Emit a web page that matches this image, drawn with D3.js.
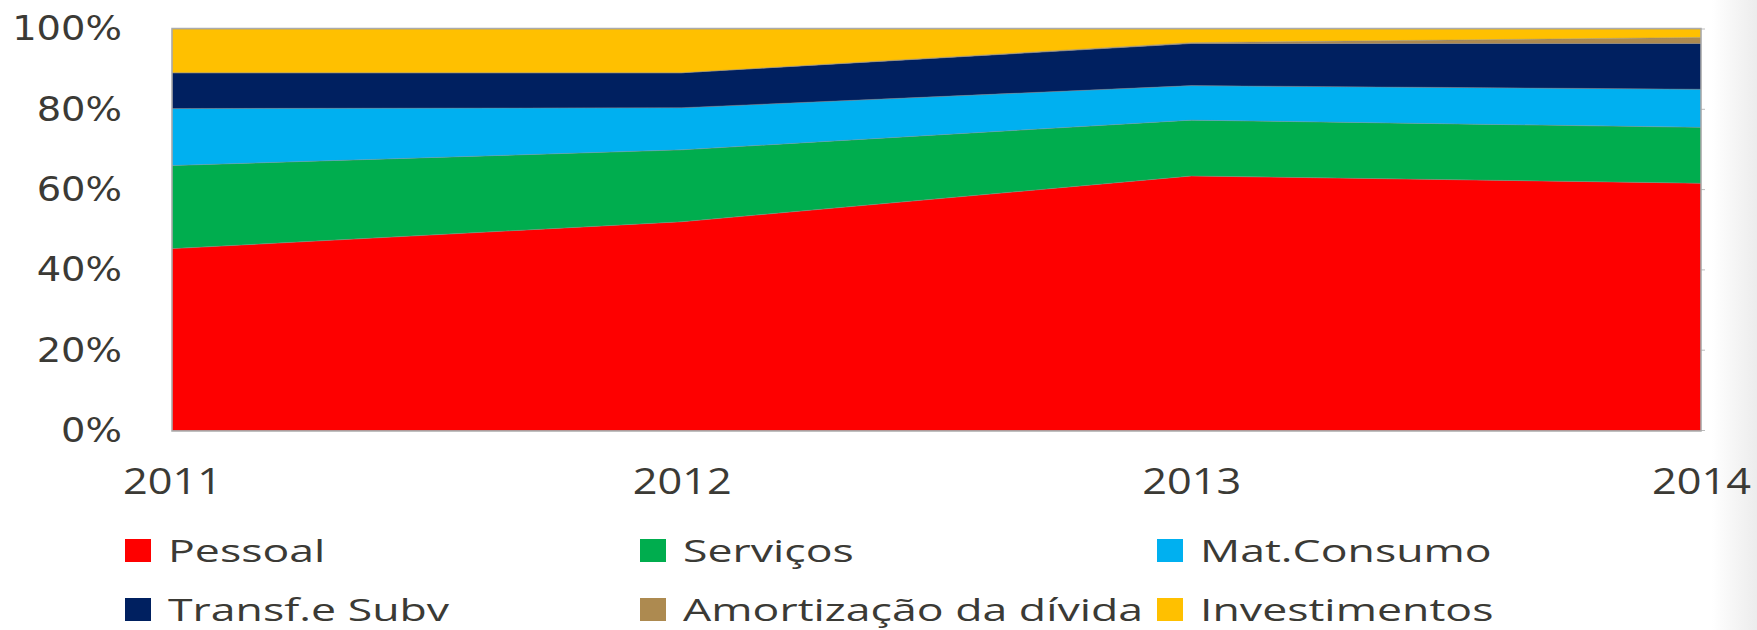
<!DOCTYPE html>
<html>
<head>
<meta charset="utf-8">
<script src="https://cdn.jsdelivr.net/npm/d3@7"></script>
<style>
  body { margin: 0; background: #fff; }
  svg { display: block; }
</style>
</head>
<body>
<svg id="chart" width="1757" height="630"></svg>
<script>
// data (share of total, %)
const years = ['2011', '2012', '2013', '2014']
const pessoal = [45.3, 52.0, 63.4, 61.6]
const servicos = [20.7, 17.9, 13.9, 13.9]
const matConsumo = [14.2, 10.5, 8.6, 9.5]
const transf = [8.9, 8.7, 10.5, 11.4]
const amortizacao = [0, 0, 0.2, 1.5]
const investimentos = [10.9, 10.9, 3.4, 2.1]
const yTicks = [0, 20, 40, 60, 80, 100]

const seriesNames = ['Pessoal', 'Serviços', 'Mat.Consumo', 'Transf.e Subv', 'Amortização da dívida', 'Investimentos']
const seriesValues = [pessoal, servicos, matConsumo, transf, amortizacao, investimentos]
const colors = ['#fe0000', '#00ad4e', '#00b0f0', '#002060', '#ad8a50', '#ffc000']

const rows = years.map((yr, i) => {
    const r = { year: yr }
    seriesNames.forEach((n, k) => r[n] = seriesValues[k][i])
    return r
})

const svg = d3.select('#chart')
const plotLeft = 172, plotRight = 1701, plotTop = 29, plotBottom = 430.5
const textColor = '#3b3a35'

const x = d3.scalePoint().domain(years).range([plotLeft, plotRight])
const y = d3.scaleLinear().domain([0, 1]).range([plotBottom, plotTop])
const color = d3.scaleOrdinal().domain(seriesNames).range(colors)

const stacked = d3.stack()
    .keys(seriesNames)
    .offset(d3.stackOffsetExpand)(rows)

// faint slide shadow on the right edge
const grad = svg.append('defs').append('linearGradient')
    .attr('id', 'edge')
grad.append('stop').attr('offset', '0%').attr('stop-color', '#fff')
grad.append('stop').attr('offset', '100%').attr('stop-color', '#ececec')
svg.append('rect')
    .attr('x', 1712)
    .attr('y', 0)
    .attr('width', 45)
    .attr('height', 630)
    .attr('fill', 'url(#edge)')

// gridlines (only the ends peek out on the right)
svg.append('g')
    .selectAll('line')
    .data(yTicks)
    .join('line')
    .attr('x1', plotLeft)
    .attr('x2', plotRight + 4)
    .attr('y1', d => y(d / 100))
    .attr('y2', d => y(d / 100))
    .attr('stroke', '#bcbcbc')
    .attr('stroke-width', 1)

const area = d3.area()
    .x(d => x(d.data.year))
    .y0(d => y(d[0]))
    .y1(d => y(d[1]))

svg.append('g')
    .selectAll('path')
    .data(stacked)
    .join('path')
    .attr('d', area)
    .attr('fill', d => color(d.key))
    .attr('stroke', '#8a8a8a')
    .attr('stroke-opacity', 0.45)
    .attr('stroke-width', 0.8)

// plot frame
svg.append('rect')
    .attr('x', plotLeft)
    .attr('y', plotTop - 0.5)
    .attr('width', plotRight - plotLeft)
    .attr('height', plotBottom - plotTop + 1)
    .attr('fill', 'none')
    .attr('stroke', '#ababab')
    .attr('stroke-width', 1.5)

// y axis
const yAxis = svg.append('g')
    .attr('transform', 'translate(122,0)')
    .call(d3.axisLeft(d3.scaleLinear().domain([0, 100]).range([plotBottom, plotTop]))
        .tickValues(yTicks)
        .tickFormat(d => d + '%')
        .tickSize(0)
        .tickPadding(0))
yAxis.select('.domain').remove()
yAxis.selectAll('text')
    .attr('x', 0)
    .attr('transform', 'scale(1.13,1)')
    .style('font-family', '"DejaVu Sans", Verdana, sans-serif')
    .style('font-size', '34px')
    .style('fill', textColor)

// x axis
const xAxis = svg.append('g')
    .attr('transform', `translate(0,${plotBottom})`)
    .call(d3.axisBottom(x).tickSize(0).tickPadding(37))
xAxis.select('.domain').remove()
xAxis.selectAll('text')
    .attr('transform', 'scale(1.17,1)')
    .style('font-family', '"Open Sans", sans-serif')
    .style('font-size', '37px')
    .style('fill', textColor)

// legend
const legendCols = [125, 640, 1157]
const legendRows = [539, 598]
const legend = svg.append('g')
    .selectAll('g')
    .data(seriesNames)
    .join('g')
    .attr('transform', (d, i) => `translate(${legendCols[i % 3]},${legendRows[Math.floor(i / 3)]})`)

legend.append('rect')
    .attr('width', 26)
    .attr('height', 23)
    .attr('fill', d => color(d))

legend.append('g')
    .attr('transform', 'translate(43,23)')
    .append('text')
    .attr('transform', 'scale(1.44,1)')
    .text(d => d)
    .style('font-family', '"Open Sans", sans-serif')
    .style('font-size', '31px')
    .style('fill', textColor)
</script>
</body>
</html>
